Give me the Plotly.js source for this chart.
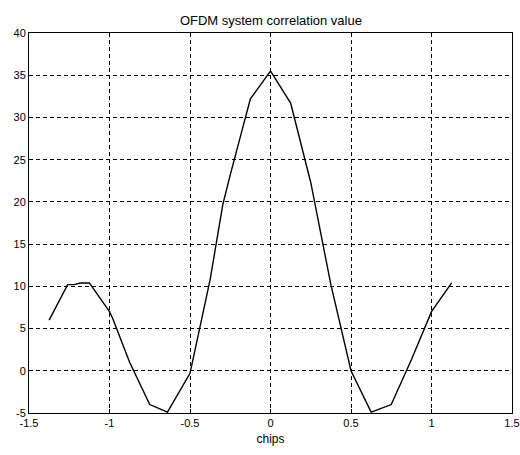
<!DOCTYPE html>
<html>
<head>
<meta charset="utf-8">
<script src="https://cdn.plot.ly/plotly-3.0.1.min.js"></script>
<style>html,body{margin:0;padding:0;background:#fff;}#chart{width:520px;height:455px;}</style>
</head>
<body>
<div id="chart"></div>
<script>
const chips = [-1.375, -1.33, -1.26, -1.22, -1.18, -1.125, -1.0, -0.98, -0.875, -0.75, -0.64, -0.5, -0.375, -0.296, -0.25, -0.125, 0.0, 0.125, 0.25, 0.375, 0.5, 0.625, 0.75, 0.875, 1.0, 1.125];
const correlation = [6.0, 7.6, 10.2, 10.2, 10.4, 10.4, 7.0, 6.2, 1.0, -4.0, -4.9, -0.3, 10.8, 19.7, 23.2, 32.2, 35.5, 31.7, 22.3, 10.2, 0.0, -4.9, -4.0, 1.3, 7.0, 10.4];
const xTicks = [-1.5, -1, -0.5, 0, 0.5, 1, 1.5];
const xTickLabels = ['-1.5', '-1', '-0.5', '0', '0.5', '1', '1.5'];
const yTicks = [-5, 0, 5, 10, 15, 20, 25, 30, 35, 40];
const yTickLabels = ['-5', '0', '5', '10', '15', '20', '25', '30', '35', '40'];

const trace = {
  x: chips, y: correlation, type: 'scatter', mode: 'lines',
  line: {color: '#000', width: 1.4}, hoverinfo: 'none'
};
const axisCommon = {
  showline: true, mirror: true, linecolor: '#000', linewidth: 1,
  showgrid: true, gridcolor: '#000', gridwidth: 1, griddash: '4px,3px',
  zeroline: false, ticks: 'inside', ticklen: 4, tickcolor: '#000',
  tickfont: {family: 'Liberation Sans, Arial, sans-serif', size: 11, color: '#000'}
};
const layout = {
  width: 520, height: 455,
  margin: {l: 29, r: 8, t: 33, b: 42},
  paper_bgcolor: '#fff', plot_bgcolor: '#fff',
  showlegend: false,
  title: {text: 'OFDM system correlation value', x: 0.521, xanchor: 'center', y: 0.956, yref: 'container', yanchor: 'middle',
          font: {family: 'Liberation Sans, Arial, sans-serif', size: 13, color: '#000'}},
  xaxis: Object.assign({}, axisCommon, {
    range: [-1.5, 1.5], tickvals: xTicks, ticktext: xTickLabels,
    title: {text: 'chips', standoff: 6, font: {family: 'Liberation Sans, Arial, sans-serif', size: 12, color: '#000'}}
  }),
  yaxis: Object.assign({}, axisCommon, {
    range: [-5, 40], tickvals: yTicks, ticktext: yTickLabels
  })
};
Plotly.newPlot('chart', [trace], layout, {staticPlot: true, displayModeBar: false});
</script>
</body>
</html>
